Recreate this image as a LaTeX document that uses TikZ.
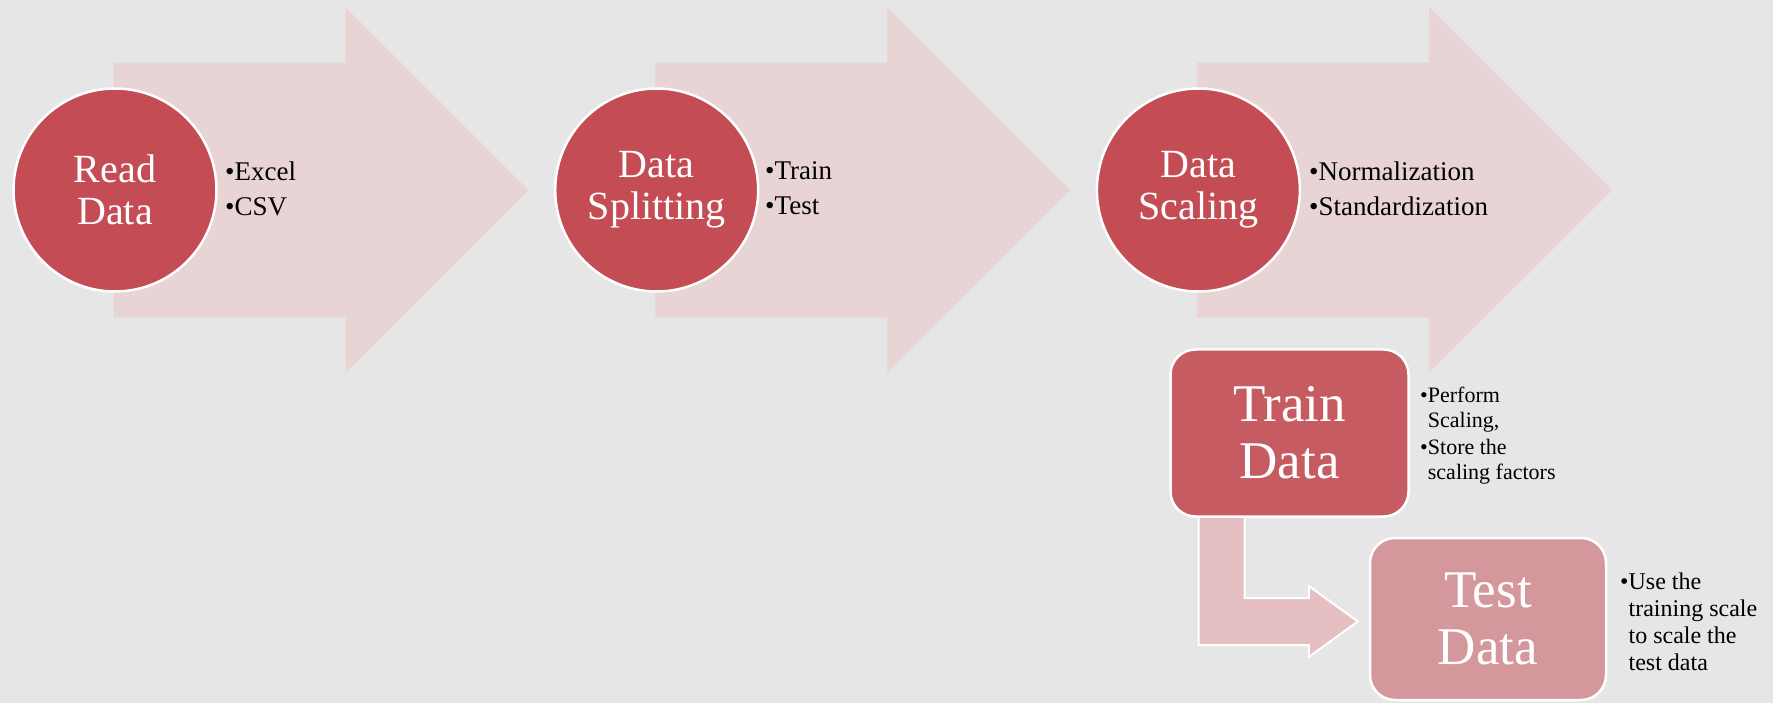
\documentclass[tikz,border=0pt]{standalone}
\usepackage{fontspec}
\setmainfont{Liberation Serif}
\usetikzlibrary{calc}
\definecolor{bgc}{HTML}{E6E6E6}
\definecolor{chevc}{HTML}{E8D3D5}
\definecolor{circc}{HTML}{C44D55}
\definecolor{trainc}{HTML}{C65B61}
\definecolor{testc}{HTML}{D4979B}
\definecolor{bentc}{HTML}{E5BFC2}
\pgfdeclarelayer{back}
\pgfdeclarelayer{mid}
\pgfsetlayers{back,mid,main}
\begin{document}
\begin{tikzpicture}[x=1pt,y=-1pt,
  chev/.style={fill=chevc},
  circ/.style={circle, minimum size=203pt, inner sep=0pt, fill=circc, draw=white, line width=2.5pt,
    text=white, align=center, font=\fontsize{40}{42}\selectfont},
  bul/.style={anchor=west, align=left, inner sep=0pt, text=black, font=\fontsize{27}{35}\selectfont},
  bulsmall/.style={anchor=west, align=left, inner sep=0pt, text=black},
  rbox/.style={rectangle, rounded corners=25pt, draw=white, line width=2.5pt, inner sep=0pt,
    text=white, align=center, font=\fontsize{53}{57}\selectfont},
  bent/.style={fill=bentc, draw=white, line width=2pt, line join=miter}
]
\useasboundingbox (0,0) rectangle (1773,703);
\begin{pgfonlayer}{back}
\fill[bgc] (0,0) rectangle (1773,703);
% chevron arrows
\foreach \o in {0,541.7,1083.4}{
  \fill[chev] (113.6+\o,62.7) -- (345.7+\o,62.7) -- (345.7+\o,7.3) -- (528.6+\o,190.2)
    -- (345.7+\o,372.7) -- (345.7+\o,317.7) -- (113.6+\o,317.7) -- cycle;
}
\end{pgfonlayer}

% circles
\node[circ] (read) at (115,190) {Read\\Data};
\node[circ] (split) at (656.7,190) {Data\\Splitting};
\node[circ] (scale) at (1198.4,190) {Data\\Scaling};

% bullet lists
\node[bul] (readb) at (225,188.5) {•Excel\\•CSV};
\node[bul] (splitb) at (765,188.5) {•Train\\•Test};
\node[bul] (scaleb) at (1309,188.5) {•Normalization\\•Standardization};

% boxes
\node[rbox, fill=trainc, minimum width=238pt, minimum height=167pt] (train) at (1289.5,433) {Train\\Data};
\node[rbox, fill=testc, minimum width=236pt, minimum height=162pt] (test) at (1488,619) {Test\\Data};

% bent arrow from train to test
\begin{pgfonlayer}{mid}
\fill[bent] let \p1=(train.south), \p2=(test.west) in
  (\x1-91pt,\y1+2pt) -- (\x1-45pt,\y1+2pt) -- (\x1-45pt,\y2+21pt) -- (\x2-60pt,\y2+21pt)
  -- (\x2-60pt,\y2+33pt) -- (\x2-11pt,\y2-2.5pt) -- (\x2-60pt,\y2-38pt) -- (\x2-60pt,\y2-26pt)
  -- (\x1-91pt,\y2-26pt) -- cycle;
\end{pgfonlayer}

% small bullet lists
\node[bulsmall, font=\fontsize{22}{25}\selectfont] (trainb) at (1420,436)
  {•Perform\\\hphantom{•}Scaling,\\[2pt]•Store the\\\hphantom{•}scaling factors};
\node[bulsmall, font=\fontsize{24}{27}\selectfont] (testb) at (1620,622)
  {•Use the\\\hphantom{•}training scale\\\hphantom{•}to scale the\\\hphantom{•}test data};
\end{tikzpicture}
\end{document}
